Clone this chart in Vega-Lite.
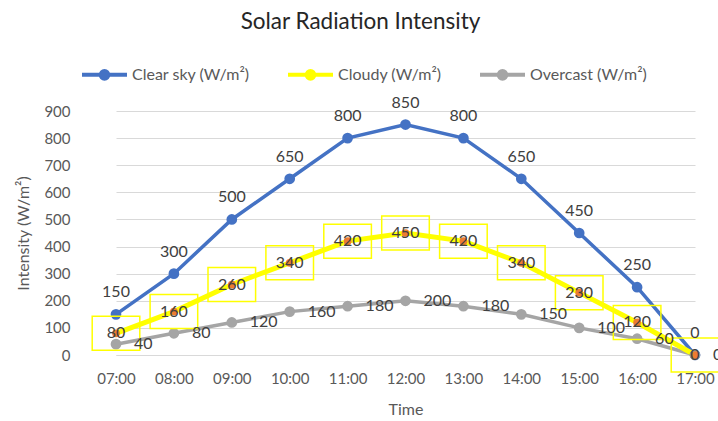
{
  "$schema": "https://vega.github.io/schema/vega-lite/v6.json",
  "autosize": {"type": "none"},
  "width": 631,
  "height": 244,
  "padding": {"left": 87, "top": 111, "right": 0, "bottom": 66},
  "background": "white",
  "config": {
    "font": "Lato",
    "view": {"stroke": null},
    "axis": {"labelColor": "#595959", "titleColor": "#595959", "labelFontSize": 15, "titleFontSize": 16, "titleFontWeight": "normal", "gridColor": "#D9D9D9", "ticks": false}
  },
  "title": {"text": "Solar Radiation Intensity", "fontSize": 22.5, "fontWeight": "normal", "color": "#262626", "anchor": "middle", "frame": "group", "dx": -42, "offset": 17},
  "data": {
    "values": [
      {"time": "07:00", "series": "Clear sky (W/m²)", "value": 150},
      {"time": "08:00", "series": "Clear sky (W/m²)", "value": 300},
      {"time": "09:00", "series": "Clear sky (W/m²)", "value": 500},
      {"time": "10:00", "series": "Clear sky (W/m²)", "value": 650},
      {"time": "11:00", "series": "Clear sky (W/m²)", "value": 800},
      {"time": "12:00", "series": "Clear sky (W/m²)", "value": 850},
      {"time": "13:00", "series": "Clear sky (W/m²)", "value": 800},
      {"time": "14:00", "series": "Clear sky (W/m²)", "value": 650},
      {"time": "15:00", "series": "Clear sky (W/m²)", "value": 450},
      {"time": "16:00", "series": "Clear sky (W/m²)", "value": 250},
      {"time": "17:00", "series": "Clear sky (W/m²)", "value": 0},
      {"time": "07:00", "series": "Cloudy (W/m²)", "value": 80},
      {"time": "08:00", "series": "Cloudy (W/m²)", "value": 160},
      {"time": "09:00", "series": "Cloudy (W/m²)", "value": 260},
      {"time": "10:00", "series": "Cloudy (W/m²)", "value": 340},
      {"time": "11:00", "series": "Cloudy (W/m²)", "value": 420},
      {"time": "12:00", "series": "Cloudy (W/m²)", "value": 450},
      {"time": "13:00", "series": "Cloudy (W/m²)", "value": 420},
      {"time": "14:00", "series": "Cloudy (W/m²)", "value": 340},
      {"time": "15:00", "series": "Cloudy (W/m²)", "value": 230},
      {"time": "16:00", "series": "Cloudy (W/m²)", "value": 120},
      {"time": "17:00", "series": "Cloudy (W/m²)", "value": 0},
      {"time": "07:00", "series": "Overcast (W/m²)", "value": 40},
      {"time": "08:00", "series": "Overcast (W/m²)", "value": 80},
      {"time": "09:00", "series": "Overcast (W/m²)", "value": 120},
      {"time": "10:00", "series": "Overcast (W/m²)", "value": 160},
      {"time": "11:00", "series": "Overcast (W/m²)", "value": 180},
      {"time": "12:00", "series": "Overcast (W/m²)", "value": 200},
      {"time": "13:00", "series": "Overcast (W/m²)", "value": 180},
      {"time": "14:00", "series": "Overcast (W/m²)", "value": 150},
      {"time": "15:00", "series": "Overcast (W/m²)", "value": 100},
      {"time": "16:00", "series": "Overcast (W/m²)", "value": 60},
      {"time": "17:00", "series": "Overcast (W/m²)", "value": 0}
    ]
  },
  "encoding": {
    "x": {"field": "time", "type": "ordinal", "scale": {"type": "point", "range": [29, 608], "padding": 0}, "axis": {"title": "Time", "labelAngle": 0, "grid": false, "domain": true, "domainColor": "#D9D9D9", "labelPadding": 16, "titlePadding": 15}},
    "y": {"field": "value", "type": "quantitative", "scale": {"domain": [0, 900], "nice": false}, "axis": {"title": "Intensity (W/m²)", "values": [0, 100, 200, 300, 400, 500, 600, 700, 800, 900], "domain": false, "labelPadding": 17, "titlePadding": 12}}
  },
  "layer": [
    {
      "transform": [{"filter": "datum.series !== 'Cloudy (W/m²)'"}],
      "mark": {"type": "line", "strokeWidth": 3.5},
      "encoding": {
        "stroke": {"field": "series", "type": "nominal", "scale": {"domain": ["Clear sky (W/m²)", "Cloudy (W/m²)", "Overcast (W/m²)"], "range": ["#4472C4", "#FFFF00", "#A5A5A5"]},
          "legend": {"title": null, "orient": "none", "legendX": -7, "legendY": -61, "direction": "horizontal", "symbolType": "M-1,0L1,0M-0.17,0A0.17,0.17 0 1,0 0.17,0A0.17,0.17 0 1,0 -0.17,0Z", "symbolSize": 2025, "symbolStrokeWidth": 4, "labelFontSize": 16, "labelColor": "#595959", "labelOffset": 3, "columnPadding": 30}}
      }
    },
    {
      "transform": [{"filter": "datum.series === 'Cloudy (W/m²)'"}],
      "mark": {"type": "line", "strokeWidth": 5},
      "encoding": {
        "stroke": {"field": "series", "type": "nominal"}
      }
    },
    {
      "transform": [{"filter": "datum.series !== 'Cloudy (W/m²)'"}],
      "mark": {"type": "point", "filled": true, "shape": "circle", "opacity": 1, "strokeWidth": 0, "size": 115},
      "encoding": {
        "fill": {"field": "series", "type": "nominal", "scale": {"domain": ["Clear sky (W/m²)", "Cloudy (W/m²)", "Overcast (W/m²)"], "range": ["#4472C4", "#ED7D31", "#A5A5A5"]},
          "legend": {"title": null, "orient": "none", "legendX": -7, "legendY": -61, "direction": "horizontal", "symbolType": "M-1,0L1,0M-0.17,0A0.17,0.17 0 1,0 0.17,0A0.17,0.17 0 1,0 -0.17,0Z", "symbolSize": 2025, "symbolStrokeWidth": 4, "labelFontSize": 16, "labelColor": "#595959", "labelOffset": 3, "columnPadding": 30}}
      }
    },
    {
      "transform": [{"filter": "datum.series === 'Cloudy (W/m²)'"}],
      "mark": {"type": "point", "filled": true, "shape": "circle", "opacity": 1, "strokeWidth": 0, "size": 60},
      "encoding": {
        "fill": {"field": "series", "type": "nominal"}
      }
    },
    {
      "transform": [{"filter": "datum.series === 'Cloudy (W/m²)'"}],
      "mark": {"type": "point", "shape": "M-1.4,-1L1.4,-1L1.4,1L-1.4,1Z", "filled": false, "stroke": "#FFFF00", "strokeWidth": 1.5, "size": 1156, "opacity": 1}
    },
    {
      "transform": [{"filter": "datum.series === 'Clear sky (W/m²)'"}],
      "mark": {"type": "text", "fontSize": 16, "color": "#404040", "dy": -22, "baseline": "middle"},
      "encoding": {"text": {"field": "value", "type": "quantitative"}}
    },
    {
      "transform": [{"filter": "datum.series === 'Cloudy (W/m²)'"}],
      "mark": {"type": "text", "fontSize": 16, "color": "#404040", "baseline": "middle"},
      "encoding": {"text": {"field": "value", "type": "quantitative"}}
    },
    {
      "transform": [{"filter": "datum.series === 'Overcast (W/m²)'"}],
      "mark": {"type": "text", "fontSize": 16, "color": "#404040", "align": "left", "dx": 18, "baseline": "middle"},
      "encoding": {"text": {"field": "value", "type": "quantitative"}}
    }
  ]
}
